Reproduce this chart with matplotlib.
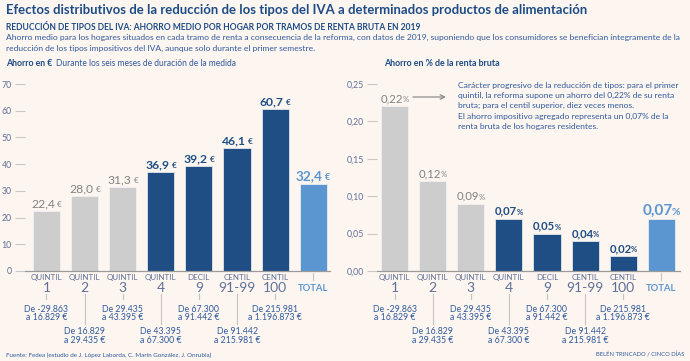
import matplotlib
matplotlib.use('Agg')
import matplotlib.pyplot as plt

W, H = 690, 361
plt.rcParams['font.family'] = ['Lato', 'DejaVu Sans']

# ---------------- data ----------------
cat_top = ["QUINTIL", "QUINTIL", "QUINTIL", "QUINTIL", "DECIL", "CENTIL", "CENTIL", ""]
cat_main = ["1", "2", "3", "4", "9", "91-99", "100", "TOTAL"]
income_ranges = [
    ("De -29.863", "a 16.829 €"),
    ("De 16.829", "a 29.435 €"),
    ("De 29.435", "a 43.395 €"),
    ("De 43.395", "a 67.300 €"),
    ("De 67.300", "a 91.442 €"),
    ("De 91.442", "a 215.981 €"),
    ("De 215.981", "a 1.196.873 €"),
]
ahorro_eur = [22.4, 28.0, 31.3, 36.9, 39.2, 46.1, 60.7, 32.4]
ahorro_pct = [0.22, 0.12, 0.09, 0.07, 0.05, 0.04, 0.02, 0.07]
eur_ticks = [0, 10, 20, 30, 40, 50, 60, 70]
eur_tick_labels = ["0", "10", "20", "30", "40", "50", "60", "70"]
pct_ticks = [0.0, 0.05, 0.10, 0.15, 0.20, 0.25]
pct_tick_labels = ["0,00", "0,05", "0,10", "0,15", "0,20", "0,25"]
bar_group = ["gray", "gray", "gray", "dark", "dark", "dark", "dark", "total"]

# ---------------- style ----------------
BG = '#FDF5EF'
C_GRAY = '#CDCDCD'
C_DARK = '#1F4E85'
C_TOTAL = '#5B96D0'
C_TITLE = '#1C4C86'
C_TEXT = '#2F5A9E'
C_TICK = '#5F7099'
bar_colors = {"gray": C_GRAY, "dark": C_DARK, "total": C_TOTAL}
label_colors = {"gray": '#828282', "dark": C_DARK, "total": C_TOTAL}

fig = plt.figure(figsize=(6.9, 3.61), dpi=100, facecolor=BG)
renderer = fig.canvas.get_renderer()


def ptext(x, y, s, **kw):
    return fig.text(x / W, 1 - y / H, s, **kw)


def fit(x, y, s, width, **kw):
    t = ptext(x, y, s, **kw)
    w = t.get_window_extent(renderer).width
    t.set_fontsize(t.get_fontsize() * width / w)
    return t


def vline_px(x, y0, y1, **kw):
    fig.add_artist(plt.Line2D([x / W, x / W], [1 - y0 / H, 1 - y1 / H],
                              transform=fig.transFigure, **kw))


# ---------------- header texts ----------------
fit(6, 13.5, "Efectos distributivos de la reducción de los tipos del IVA a determinados productos de alimentación",
    577, fontsize=12, weight='bold', color=C_TITLE, va='baseline')
fit(6, 29.5, "REDUCCIÓN DE TIPOS DEL IVA: AHORRO MEDIO POR HOGAR POR TRAMOS DE RENTA BRUTA EN 2019",
    416, fontsize=8, weight='bold', color=C_TITLE, va='baseline')
d1 = fit(6, 39.5, "Ahorro medio para los hogares situados en cada tramo de renta a consecuencia de la reforma, con datos de 2019, suponiendo que los consumidores se benefician íntegramente de la",
         671, fontsize=7, color=C_TEXT, va='baseline')
ptext(6, 50.5, "reducción de los tipos impositivos del IVA, aunque solo durante el primer semestre.",
      va='baseline', color=C_TEXT, fontsize=d1.get_fontsize())

ta = fit(6, 66.5, "Ahorro en €", 47, fontsize=7.3, weight='bold', color=C_TITLE, va='baseline')
wa = ta.get_window_extent(renderer).width
fit(6 + wa + 4, 66.5, "Durante los seis meses de duración de la medida", 238 - 10 - wa,
    fontsize=7.0, color=C_TEXT, va='baseline')
fit(384, 66.5, "Ahorro en % de la renta bruta", 118, fontsize=7.3, weight='bold',
    color=C_TITLE, va='baseline')

# annotation text
ann1 = ["Carácter progresivo de la reducción de tipos: para el primer",
        "quintil, la reforma supone un ahorro del 0,22% de su renta",
        "bruta; para el centil superior, diez veces menos."]
ann2 = ["El ahorro impositivo agregado representa un 0,07% de la",
        "renta bruta de los hogares residentes."]
f0 = fit(458, 88.3, ann1[0], 219, fontsize=7, color=C_TEXT, va='baseline')
afs = f0.get_fontsize()
for k, line in enumerate(ann1[1:], start=1):
    ptext(458, 88.3 + 9.8 * k, line, fontsize=afs, color=C_TEXT, va='baseline')
for k, line in enumerate(ann2):
    ptext(458, 119.3 + 9.8 * k, line, fontsize=afs, color=C_TEXT, va='baseline')

# footer
fit(6, 356.5, "Fuente: Fedea (estudio de J. López Laborda, C. Marín González, J. Onrubia)",
    206, fontsize=5.5, color=C_TEXT, va='baseline')
fit(684, 356.5, "BELÉN TRINCADO / CINCO DÍAS", 90, fontsize=5, color=C_TEXT,
    va='baseline', ha='right')


# ---------------- charts ----------------
def make_chart(left, right, xlim, values, ticks, ticklabels, ymax, fmt, unit, unit_gap,
               fs_num, fs_total):
    ax = fig.add_axes([left / W, 1 - 271 / H, (right - left) / W, (271 - 84) / H])
    ax.set_facecolor('none')
    xs = list(range(len(values)))
    ax.bar(xs, values, width=0.71, color=[bar_colors[g] for g in bar_group],
           edgecolor='#F4F4F4', linewidth=0.5, zorder=2)
    ax.set_xlim(*xlim)
    ax.set_ylim(0, ymax)
    for s in ['top', 'right', 'left']:
        ax.spines[s].set_visible(False)
    ax.spines['bottom'].set_color('#9A9A9A')
    ax.spines['bottom'].set_linewidth(0.9)
    ax.set_xticks([])
    ax.set_yticks(ticks)
    ax.set_yticklabels(ticklabels)
    ax.tick_params(axis='y', length=7, width=0.8, color='#C8C8C8', pad=2.5,
                   labelsize=6.3, labelcolor=C_TICK)

    for i, v in enumerate(values):
        cx, ty = ax.transData.transform((i, v))
        ty_px = H - ty
        g = bar_group[i]
        fs = fs_total if g == "total" else fs_num
        wgt = 'normal' if g == "gray" else 'bold'
        col = label_colors[g]
        t1 = fig.text(0, 0, fmt(v), fontsize=fs, weight=wgt, color=col, va='baseline')
        t2 = fig.text(0, 0, unit, fontsize=fs * 0.68, weight=wgt, color=col, va='baseline')
        w1 = t1.get_window_extent(renderer).width
        w2 = t2.get_window_extent(renderer).width
        tot = w1 + unit_gap + w2
        x0 = cx - tot / 2
        yb = ty_px - 4
        t1.set_position((x0 / W, 1 - yb / H))
        t2.set_position(((x0 + w1 + unit_gap) / W, 1 - yb / H))

        # category labels
        if cat_top[i]:
            ptext(cx, 277.5, cat_top[i], fontsize=5.8, color=C_TICK, ha='center', va='center')
            ptext(cx, 288.5, cat_main[i], fontsize=10.0, color=C_TICK, ha='center', va='center')
        else:
            ptext(cx, 288.5, cat_main[i], fontsize=6.8, weight='bold', color=C_TOTAL,
                  ha='center', va='center')
        if i < len(income_ranges):
            l1, l2 = income_ranges[i]
            if i % 2 == 0:
                vline_px(cx, 294, 299, color='#C4C4C4', lw=0.8)
                yc = 309
            else:
                vline_px(cx, 294, 324, color='#C4C4C4', lw=0.8)
                yc = 332
            ptext(cx, yc, l1, fontsize=6.3, color=C_TEXT, ha='center', va='center')
            ptext(cx, yc + 8.7, l2, fontsize=6.3, color=C_TEXT, ha='center', va='center')
        else:
            vline_px(cx, 273, 280, color='#C4C4C4', lw=0.8)
    return ax


axL = make_chart(25, 330, (-0.564, 7.44), ahorro_eur, eur_ticks, eur_tick_labels, 70,
                 lambda v: f"{v:.1f}".replace('.', ','), "€", 2.5, 8.7, 9.8)
axR = make_chart(377, 680, (-0.46, 7.49), ahorro_pct, pct_ticks, pct_tick_labels, 0.25,
                 lambda v: f"{v:.2f}".replace('.', ','), "%", -0.8, 8.2, 11.0)

# arrow in right chart
axR.annotate("", xy=(446, H - 97), xycoords='figure pixels',
             xytext=(413, H - 97), textcoords='figure pixels',
             arrowprops=dict(arrowstyle='->', color='#8C8C8C', lw=0.9,
                             shrinkA=0, shrinkB=0, mutation_scale=8))

fig.savefig('out.png', dpi=100, facecolor=BG)
